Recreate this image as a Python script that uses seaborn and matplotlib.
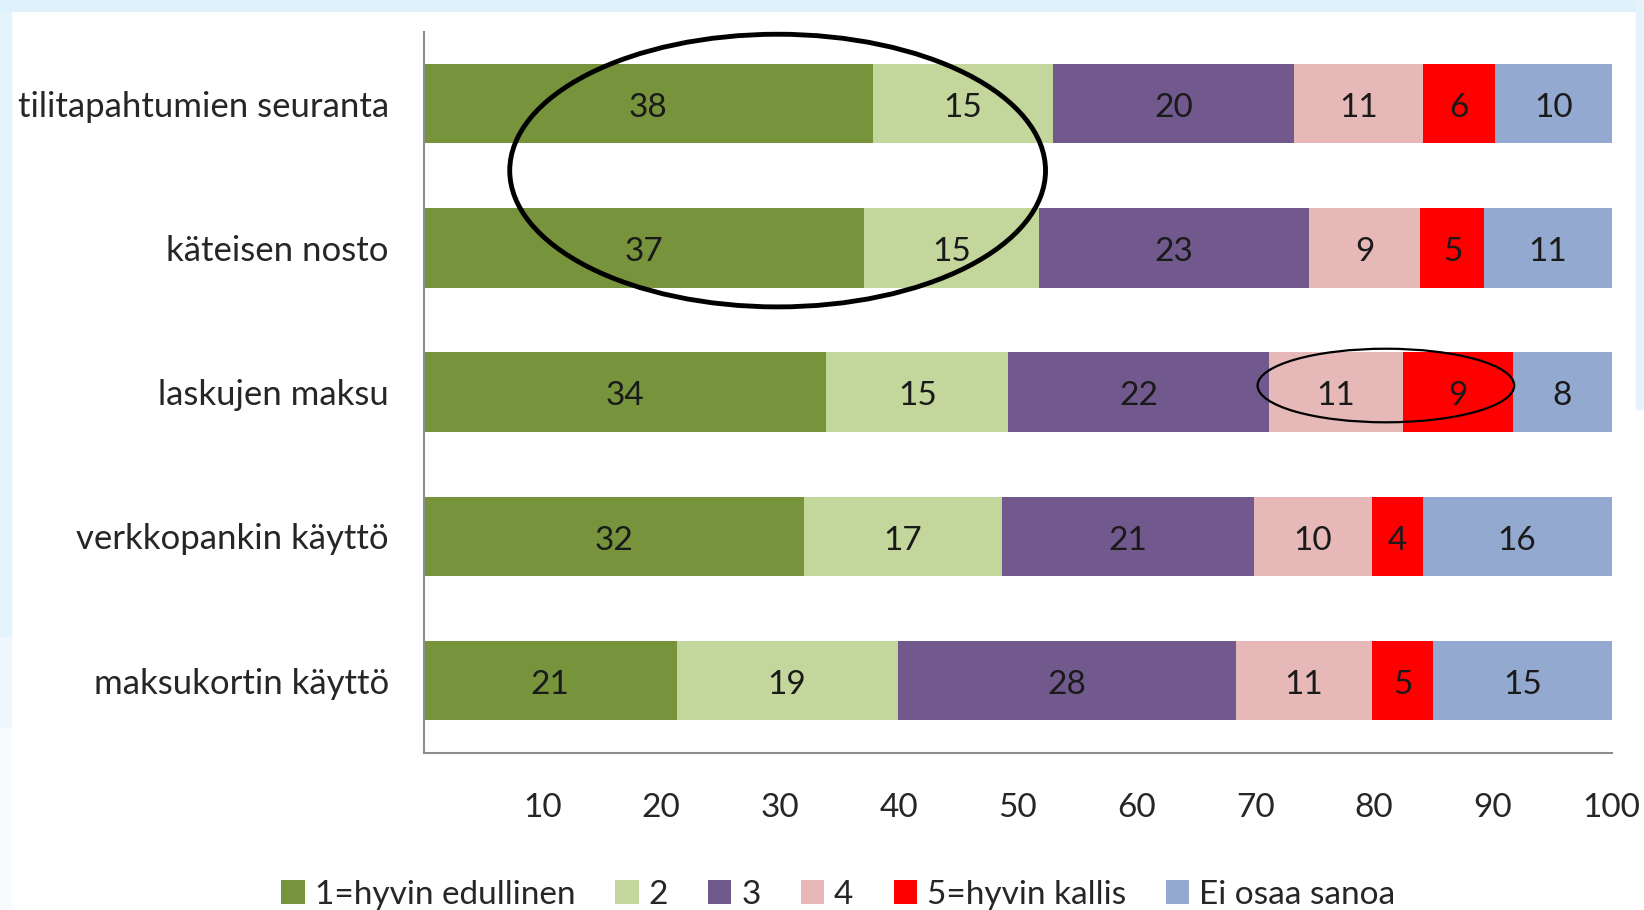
import numpy as np
import pandas as pd
import matplotlib
matplotlib.use("Agg")
import matplotlib.pyplot as plt
import seaborn as sns
from matplotlib.patches import Ellipse, Patch, Rectangle

categories = ["tilitapahtumien seuranta", "käteisen nosto", "laskujen maksu",
              "verkkopankin käyttö", "maksukortin käyttö"]
series_names = ["1=hyvin edullinen", "2", "3", "4", "5=hyvin kallis", "Ei osaa sanoa"]
v1 = [37.8, 37.1, 33.9, 32.0, 21.3]
v2 = [15.2, 14.7, 15.3, 16.7, 18.6]
v3 = [20.3, 22.7, 22.0, 21.2, 28.5]
v4 = [10.8, 9.4, 11.2, 9.9, 11.4]
v5 = [6.1, 5.4, 9.3, 4.3, 5.2]
v6 = [9.8, 10.7, 8.3, 15.9, 15.0]
xticks = [10, 20, 30, 40, 50, 60, 70, 80, 90, 100]
colors = ["#77933C", "#C3D69B", "#71598E", "#E6B9B8", "#FF0000", "#93A9CF"]

series = [v1, v2, v3, v4, v5, v6]

sns.set_style("white")
plt.rcParams["font.family"] = ["Lato", "DejaVu Sans"]

fig = plt.figure(figsize=(16.44, 9.10), dpi=100)
fig.patch.set_facecolor("white")
# light blue frame bands
fig.patches.append(Rectangle((0, 1 - 11 / 910), 1, 11 / 910, transform=fig.transFigure,
                             color="#DFF1FB", zorder=0))
fig.patches.append(Rectangle((0, 0.3), 11 / 1644, 0.7 - 11 / 910, transform=fig.transFigure,
                             color="#E4F3FC", zorder=0))
fig.patches.append(Rectangle((0, 0.2), 11 / 1644, 0.1, transform=fig.transFigure,
                             color="#EEF7FD", zorder=0))
fig.patches.append(Rectangle((0, 0.0), 11 / 1644, 0.2, transform=fig.transFigure,
                             color="#F7FBFE", zorder=0))
fig.patches.append(Rectangle((1 - 8 / 1644, 0.55), 8 / 1644, 0.45, transform=fig.transFigure,
                             color="#E4F3FC", zorder=0))

ax = fig.add_axes([423.6 / 1644, 1 - 752.8 / 910, (1611.6 - 423.6) / 1644, (752.8 - 31.5) / 910])

cum = np.cumsum(np.array(series), axis=0)
for i in reversed(range(len(series))):
    df = pd.DataFrame({"cat": categories, "val": cum[i]})
    sns.barplot(data=df, x="val", y="cat", orient="h", color=colors[i], saturation=1,
                width=0.55, ax=ax, linewidth=0, errorbar=None)

starts = np.vstack([np.zeros(len(categories)), cum[:-1]])
for i, vals in enumerate(series):
    for j, v in enumerate(vals):
        ax.text(starts[i][j] + v / 2, j + 0.03, f"{round(v):d}", ha="center", va="center",
                fontsize=24, color="#1a1a1a")

ax.set_xlim(0, 100)
ax.set_ylim(4.5, -0.5)
ax.set_xticks(xticks)
ax.set_xticklabels([str(t) for t in xticks], fontsize=24)
ax.tick_params(axis="x", length=0, pad=29)
ax.tick_params(axis="y", length=0, pad=25, labelsize=25)
ax.set_xlabel("")
ax.set_ylabel("")
for s in ["top", "right"]:
    ax.spines[s].set_visible(False)
for s in ["left", "bottom"]:
    ax.spines[s].set_color("#8c8c8c")
    ax.spines[s].set_linewidth(1.5)

# annotation ellipses
ax.add_patch(Ellipse((29.8, 0.464), 45.1, 1.89, fill=False, edgecolor="black",
                     linewidth=3.5, clip_on=False, zorder=5))
ax.add_patch(Ellipse((81.0, 1.954), 21.6, 0.51, fill=False, edgecolor="black",
                     linewidth=1.6, clip_on=False, zorder=5))

handles = [Patch(facecolor=c, edgecolor="none", label=n) for c, n in zip(colors, series_names)]
fig.legend(handles=handles, loc="center", bbox_to_anchor=(0.510, 0.017), ncol=6,
           frameon=False, fontsize=24, handlelength=0.7, handleheight=0.7,
           handletextpad=0.3, columnspacing=1.2)

fig.savefig("out.png", dpi=100, facecolor=fig.get_facecolor())
